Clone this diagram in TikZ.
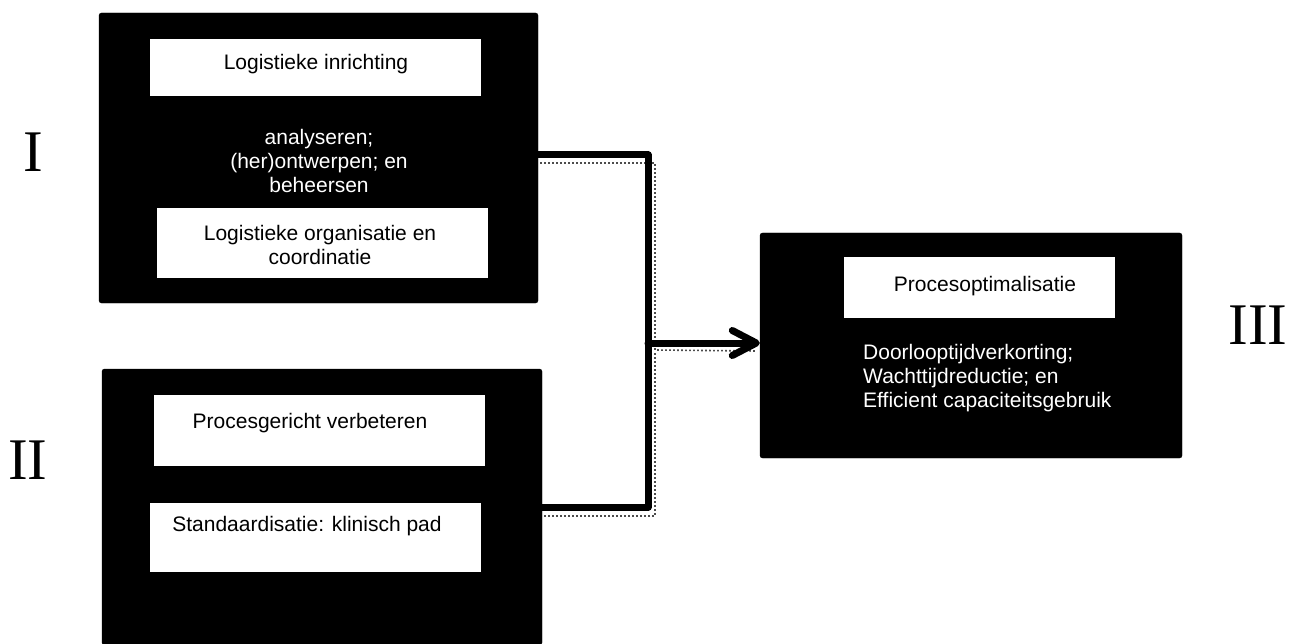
\documentclass[tikz,border=0pt]{standalone}
\usepackage{fontspec}
\setmainfont{Liberation Sans}
\newfontfamily\numeralfont{Liberation Serif}
\usetikzlibrary{arrows.meta}

\begin{document}
\begin{tikzpicture}[x=1pt,y=-1pt,
  outerbox/.style={fill=black, draw=black, rounded corners=2.5pt, inner sep=0pt},
  innerbox/.style={fill=white, draw=none, inner sep=0pt},
  darktext/.style={font=\fontsize{21}{24}\selectfont, text=black, align=center, inner sep=0pt},
  lighttext/.style={font=\fontsize{21}{24}\selectfont, text=white, align=center, inner sep=0pt},
  numeral/.style={font=\numeralfont\fontsize{59}{59}\selectfont, inner sep=0pt},
  flow/.style={line width=7pt, line join=round, line cap=round},
  flowshadow/.style={draw=black!70, line width=1.6pt, dash pattern=on 1.6pt off 2.4pt},
]
\useasboundingbox[fill=white] (0,0) rectangle (1289,644);

% Block I: logistieke inrichting
\node[outerbox, minimum width=439pt, minimum height=290pt] (b1) at (318.5,158) {};
\node[innerbox, minimum width=331pt, minimum height=57pt] (b1a) at (315.5,67.5) {};
\node[darktext] (t1a) at (316,64) {Logistieke inrichting};
\node[lighttext] (t1m) at (319,161) {analyseren;\\(her)ontwerpen; en\\beheersen};
\node[innerbox, minimum width=331pt, minimum height=70pt] (b1b) at (322.5,243) {};
\node[darktext] (t1b) at (320,245) {Logistieke organisatie en\\coordinatie};

% Block II: procesgericht verbeteren
\node[outerbox, minimum width=440pt, minimum height=276pt] (b2) at (322,507) {};
\node[innerbox, minimum width=331pt, minimum height=71pt] (b2a) at (319.5,430.5) {};
\node[darktext] (t2a) at (310,423) {Procesgericht verbeteren};
\node[innerbox, minimum width=331pt, minimum height=69pt] (b2b) at (315.5,537.5) {};
\node[darktext] (t2b) at (307,526) {Standaardisatie: klinisch pad};

% Block III: procesoptimalisatie
\node[outerbox, minimum width=422pt, minimum height=225pt] (b3) at (971,345.5) {};
\node[innerbox, minimum width=271pt, minimum height=61pt] (b3a) at (979.5,287.5) {};
\node[darktext] (t3a) at (985,286) {Procesoptimalisatie};
\node[lighttext, align=left, anchor=west] (t3m) at (863,378) {Doorlooptijdverkorting;\\Wachttijdreductie; en\\Efficient capaciteitsgebruik};

% Roman numerals
\node[numeral] (n1) at (33,152) {I};
\node[numeral] (n2) at (28,460) {II};
\node[numeral] (n3) at (1258,325) {III};

% Junction points of the connector
\coordinate (j1) at (648,155);
\coordinate (jm) at (648,343);
\coordinate (j2) at (648,507);

% Dotted shadow of the connector
\draw[flowshadow] ([xshift=2pt,yshift=-8pt]b1.east |- j1) -- ([xshift=7pt,yshift=-8pt]j1) -- ([xshift=7pt,yshift=-7pt]jm) -- ([xshift=-4pt,yshift=-8pt]b3.west |- jm);
\draw[flowshadow] ([xshift=2pt,yshift=-9pt]b2.east |- j2) -- ([xshift=7pt,yshift=-9pt]j2) -- ([xshift=7pt,yshift=-9pt]jm);

% Connector
\draw[flow] (b1.east |- j1) -- (j1) -- (j2) -- (b2.east |- j2);
\draw[flow, -{Straight Barb[length=24pt, width=25pt, round]}] (jm) -- (b3.west |- jm);
\end{tikzpicture}
\end{document}
